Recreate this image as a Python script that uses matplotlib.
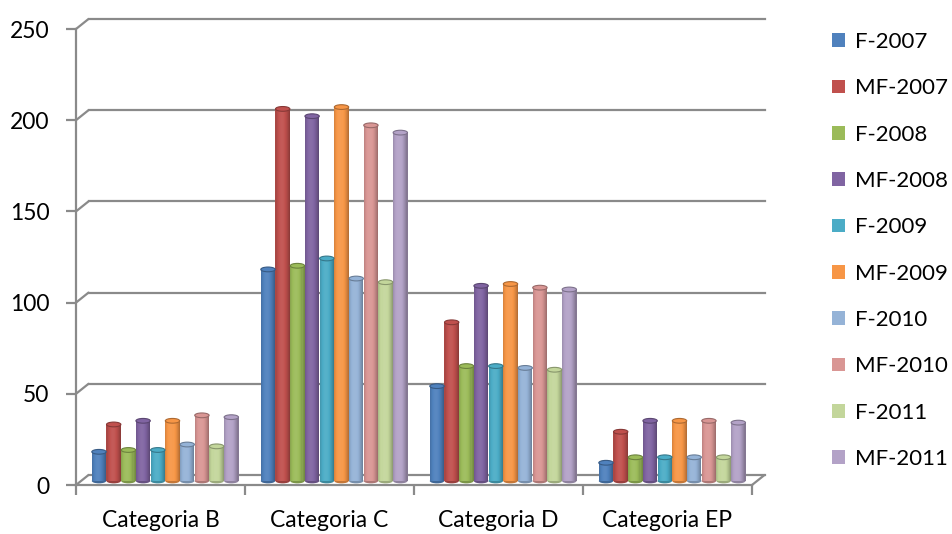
import numpy as np
import matplotlib.pyplot as plt
from matplotlib.transforms import ScaledTranslation
from matplotlib.patches import Ellipse, Patch, ConnectionPatch
from matplotlib.colors import to_rgb

plt.rcParams['font.family'] = ['Lato', 'DejaVu Sans']

categories = ['Categoria B', 'Categoria C', 'Categoria D', 'Categoria EP']
series = ['F-2007', 'MF-2007', 'F-2008', 'MF-2008', 'F-2009',
          'MF-2009', 'F-2010', 'MF-2010', 'F-2011', 'MF-2011']
values = {
    'F-2007':  [16, 116, 52, 10],
    'MF-2007': [31, 204, 87, 27],
    'F-2008':  [17, 118, 63, 13],
    'MF-2008': [33, 200, 107, 33],
    'F-2009':  [17, 122, 63, 13],
    'MF-2009': [33, 205, 108, 33],
    'F-2010':  [20, 111, 62, 13],
    'MF-2010': [36, 195, 106, 33],
    'F-2011':  [19, 109, 61, 13],
    'MF-2011': [35, 191, 105, 32],
}
colors = ['#4F81BD', '#C0504D', '#9BBB59', '#8064A2', '#4BACC6',
          '#F79646', '#95B3D7', '#D99694', '#C3D69B', '#B3A2C7']
yticks = [0, 50, 100, 150, 200, 250]

W, H = 952, 534
fig = plt.figure(figsize=(W / 100, H / 100), dpi=100)
ax = fig.add_axes([76 / W, 49 / H, 676 / W, 456 / H])
ax.set_xlim(0, len(categories))
ax.set_ylim(0, 250)

grid_col = '#8a8a8a'
# back wall sits a little right and up from the front plane
back = ax.transData + ScaledTranslation(12.5 / 100, 10 / 100, fig.dpi_scale_trans)
# bars stand in the middle of the floor depth
mid = ax.transData + ScaledTranslation(5.5 / 100, 4 / 100, fig.dpi_scale_trans)

for v in yticks:
    ax.plot([0, len(categories)], [v, v], color=grid_col, lw=1.6,
            transform=back, clip_on=False, zorder=1)
    ax.add_artist(ConnectionPatch((0, v), (0, v), coordsA=ax.transData,
                                  coordsB=back, color=grid_col, lw=1.6,
                                  zorder=1))
ax.add_artist(ConnectionPatch((len(categories), 0), (len(categories), 0),
                              coordsA=ax.transData, coordsB=back,
                              color=grid_col, lw=1.6, zorder=1))


def shade(rgb, f):
    rgb = np.array(rgb)
    if f >= 1:
        return tuple(rgb + (1 - rgb) * (f - 1))
    return tuple(rgb * f)


n_series = len(series)
pitch = 0.087
bar_w = 0.085
nstrip = 14
x0 = np.arange(len(categories)) + 0.5 - pitch * (n_series - 1) / 2 - 0.005
t = (np.arange(nstrip) + 0.5) / nstrip
# cylinder shading: dark rims, lighter band just left of centre
profile = 0.66 + 0.40 * np.cos(np.pi * (t - 0.42) / 1.25)
cap_h = 2.6

for i, name in enumerate(series):
    base = to_rgb(colors[i])
    xs = x0 + i * pitch
    for j in range(nstrip):
        ax.bar(xs - bar_w / 2 + (j + 0.5) * bar_w / nstrip, values[name],
               width=bar_w / nstrip * 1.05, bottom=0,
               color=shade(base, profile[j]),
               linewidth=0, transform=mid, zorder=3)
    for x, v in zip(xs, values[name]):
        ax.add_patch(Ellipse((x, 0), bar_w, cap_h, transform=mid,
                             facecolor=shade(base, 0.8), edgecolor='none',
                             zorder=2.9))
        ax.add_patch(Ellipse((x, v), bar_w, cap_h, transform=mid,
                             facecolor=shade(base, 1.0),
                             edgecolor=shade(base, 0.7), lw=0.8, zorder=4))

for s in ['top', 'right']:
    ax.spines[s].set_visible(False)
for s in ['left', 'bottom']:
    ax.spines[s].set_color(grid_col)
    ax.spines[s].set_linewidth(1.6)

ax.set_yticks(yticks)
ax.tick_params(axis='y', length=7, width=1.6, color=grid_col,
               labelsize=16.5, pad=12)
ax.set_xticks(range(len(categories) + 1))
ax.set_xticklabels([])
ax.set_xticks(np.arange(len(categories)) + 0.5, categories, minor=True)
ax.tick_params(axis='x', which='major', length=7, width=1.6, color=grid_col)
ax.tick_params(axis='x', which='minor', length=0, labelsize=16.5, pad=18)

handles = [Patch(facecolor=c, edgecolor='none') for c in colors]
fig.legend(handles, series, loc='upper left',
           bbox_to_anchor=(832 / W, 1 - 32 / H), frameon=False,
           fontsize=16, handlelength=0.58, handleheight=0.58,
           handletextpad=0.45, labelspacing=1.185, borderaxespad=0,
           borderpad=0)

fig.savefig('out.png', dpi=100)
